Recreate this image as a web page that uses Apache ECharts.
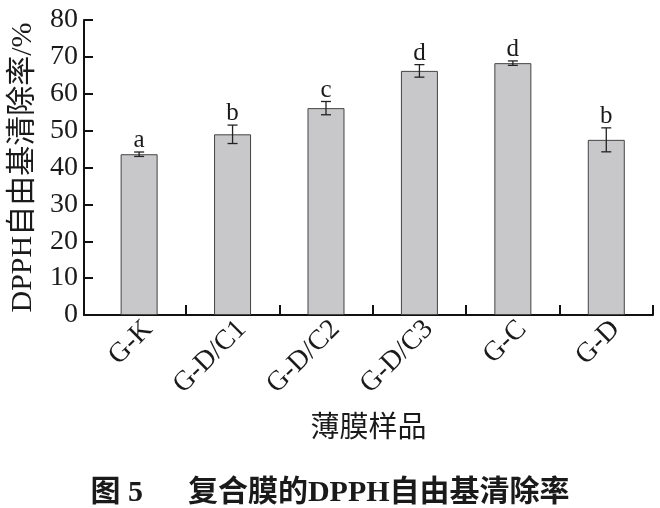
<!DOCTYPE html>
<html><head><meta charset="utf-8">
<script src="https://cdn.jsdelivr.net/npm/echarts@6/dist/echarts.min.js"></script>
<style>html,body{margin:0;padding:0;background:#fff}#c{width:660px;height:508px}</style>
</head><body><div id="c"></div>
<script>
const categories = ['G-K','G-D/C1','G-D/C2','G-D/C3','G-C','G-D'];
const values = [43.6, 49.0, 56.1, 66.2, 68.3, 47.5];
const errors = [0.6, 2.5, 1.8, 1.7, 0.6, 3.25];
const letters = ['a','b','c','d','d','b'];
const yTicks = [0,10,20,30,40,50,60,70,80];

const FONT = '"Liberation Serif","Noto Sans CJK SC",serif';
const chart = echarts.init(document.getElementById('c'));
const barData = values.map((v,i)=>[i,v]);
const errData = values.map((v,i)=>[i,v,errors[i]]);
const bounds = categories.map((c,i)=>i+0.5);

chart.setOption({
  animation:false,
  title:{text:'图 5\u3000\u2002复合膜的DPPH自由基清除率',left:'center',top:473,
    textStyle:{fontFamily:FONT,fontSize:30,fontWeight:'bold',color:'#1a1a1a'}},
  grid:{left:83,right:7,top:20,bottom:193},
  xAxis:{type:'value',min:-0.59,max:5.5,
    name:'薄膜样品',nameLocation:'middle',nameGap:100,
    nameTextStyle:{fontFamily:FONT,fontSize:29,color:'#1a1a1a'},
    axisLine:{show:true,lineStyle:{color:'#111',width:2}},
    axisTick:{show:true,inside:true,length:10,customValues:bounds,lineStyle:{color:'#111',width:2}},
    axisLabel:{customValues:categories.map((c,i)=>i+0.1),rotate:45,margin:10,
      formatter:v=>categories[Math.round(v)],
      fontFamily:FONT,fontSize:28,color:'#1a1a1a'},
    splitLine:{show:false}},
  yAxis:{type:'value',min:0,max:80,interval:10,
    name:'DPPH自由基清除率/%',nameLocation:'middle',nameGap:46,
    nameTextStyle:{fontFamily:FONT,fontSize:30,color:'#1a1a1a'},
    axisLine:{show:true,onZero:false,lineStyle:{color:'#111',width:2}},
    axisTick:{show:true,inside:true,length:9,lineStyle:{color:'#111',width:2}},
    axisLabel:{fontFamily:FONT,fontSize:28,color:'#1a1a1a',margin:6,
      customValues:yTicks},
    splitLine:{show:false}},
  series:[
    {type:'bar',data:barData,barWidth:37,
      itemStyle:{color:'#c8c8ca',borderColor:'#444',borderWidth:1}},
    {type:'custom',data:errData,z:5,
      renderItem:function(params,api){
        const x=api.value(0),v=api.value(1),e=api.value(2);
        const top=api.coord([x,v+e]),bot=api.coord([x,v-e]);
        const hw=5;
        const st={stroke:'#222',lineWidth:1.3};
        return {type:'group',children:[
          {type:'line',shape:{x1:top[0],y1:top[1],x2:bot[0],y2:bot[1]},style:st},
          {type:'line',shape:{x1:top[0]-hw,y1:top[1],x2:top[0]+hw,y2:top[1]},style:st},
          {type:'line',shape:{x1:bot[0]-hw,y1:bot[1],x2:bot[0]+hw,y2:bot[1]},style:st},
          {type:'text',x:top[0],y:top[1]+1,style:{text:letters[params.dataIndex],
            fontFamily:FONT,fontSize:25,fill:'#1a1a1a',align:'center',verticalAlign:'bottom'}}
        ]};
      }}
  ]
});
</script></body></html>
